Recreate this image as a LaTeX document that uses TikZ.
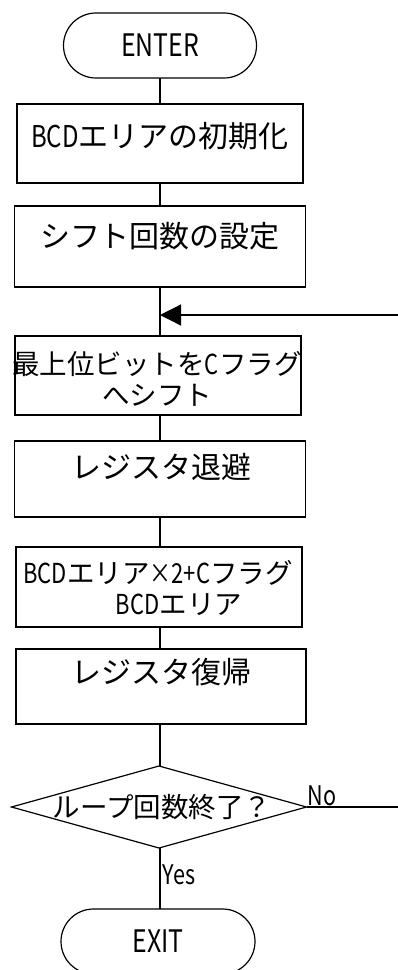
\documentclass[tikz,border=0pt]{standalone}
\usepackage{fontspec}
\usepackage{graphicx}
\setmainfont{Noto Sans CJK JP}
\usetikzlibrary{shapes.geometric,arrows.meta}
\newcommand\hw[1]{\scalebox{0.8}[1]{#1}}
\begin{document}
\begin{tikzpicture}[x=1pt,y=-1pt,line width=1.2pt,
  term/.style={draw,rounded corners=32.5pt,minimum width=193pt,minimum height=65pt,inner sep=0pt,outer sep=0pt,font=\fontsize{31}{34}\selectfont},
  pbox/.style={draw,minimum width=#1,inner sep=0pt,outer sep=0pt},
  txt/.style={inner sep=0pt,font=\fontsize{30}{34}\selectfont},
  stxt/.style={inner sep=0pt,font=\fontsize{27.5}{32}\selectfont},
  lbl/.style={inner sep=0pt,font=\fontsize{27}{30}\selectfont}]
\useasboundingbox (0,0) rectangle (398,970);
% terminals
\node[term] (enter) at (160,45.5) {\hw{ENTER}};
\node[term,minimum width=194pt] (exit) at (158,941.5) {\hw{EXIT}};
% boxes
\node[pbox=286pt,minimum height=79pt] (b1) at (160,143.5) {};
\node[txt] (t1) at (160,136) {\hw{BCD}エリアの初期化};
\node[pbox=291pt,minimum height=81pt] (b2) at (160,246.5) {};
\node[txt] (t2) at (160,236) {シフト回数の設定};
\node[pbox=286pt,minimum height=79pt] (b3) at (158,375.5) {};
\node[stxt] (t3a) at (157,364) {最上位ビットを\hw{C}フラグ};
\node[stxt] (t3b) at (157,395) {へシフト};
\node[pbox=291pt,minimum height=76pt] (b4) at (160,479) {};
\node[txt] (t4) at (161,467) {レジスタ退避};
\node[pbox=286pt,minimum height=80pt] (b5) at (159,587) {};
\node[stxt] (t5a) at (158,573) {\hw{BCD}エリア\hw{×2+C}フラグ};
\node[stxt] (t5b) at (179,605) {\hw{BCD}エリア};
\node[pbox=290pt,minimum height=75pt] (b6) at (161,686.5) {};
\node[txt] (t6) at (161,672) {レジスタ復帰};
% decision
\node[draw,diamond,minimum width=295pt,minimum height=82pt,inner sep=0pt,outer sep=0pt] (dia) at (159,807) {};
\node[stxt] (td) at (162,807) {ループ回数終了？};
% connectors
\draw (enter.south) -- (enter.south |- b1.north);
\draw (b1.south) -- (b1.south |- b2.north);
\draw (b2.south) -- (b2.south |- b3.north);
\coordinate (junc) at (160,315);
\coordinate (rtop) at (398,315);
\draw[-{Triangle[length=21pt,width=21pt]}] (rtop) -- (junc);
\draw (b3.south -| b2.south) -- (b2.south |- b4.north);
\draw (b4.south) -- (b4.south |- b5.north);
\draw (b5.south -| b4.south) -- (b4.south |- b6.north);
\draw (b6.south -| b4.south) -- (b4.south |- dia.north);
\coordinate (rno) at (398,807);
\draw (dia.east) -- (rno);
\draw (dia.south -| b4.south) -- (b4.south |- exit.north);
% labels
\node[lbl,anchor=south west] (no) at (307,806) {\hw{No}};
\node[lbl,anchor=west] (yes) at (162,875) {\hw{Yes}};
\end{tikzpicture}
\end{document}
